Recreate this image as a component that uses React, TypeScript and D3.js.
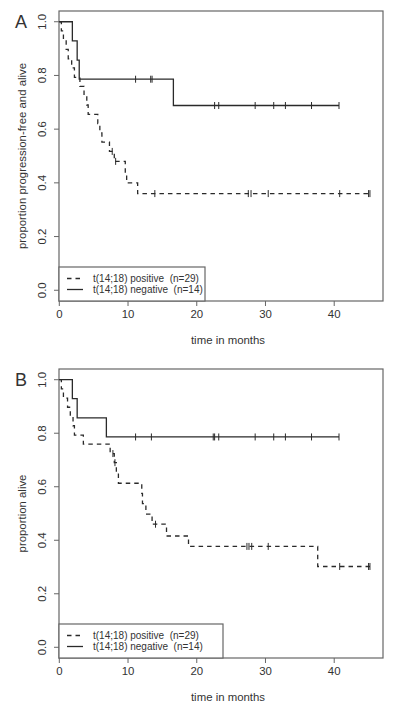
import React from "react";
import * as d3 from "d3";

// ---- data ----
// Panel A: progression-free survival
const aPosTimes = [0, 0.3, 0.6, 1.0, 1.3, 1.8, 2.2, 3.0, 3.6, 4.0, 4.2, 5.6, 5.9, 6.2, 7.3, 8.0, 9.6, 9.8, 11.4];
const aPosSurv = [1, 0.966, 0.931, 0.897, 0.862, 0.828, 0.793, 0.759, 0.724, 0.69, 0.655, 0.621, 0.586, 0.552, 0.517, 0.48, 0.44, 0.4, 0.36];
const aPosCensor = [7.7, 8.2, 13.9, 27.5, 27.9, 30.4, 40.8, 45.0, 45.2];
const aPosEnd = 45.2;

const aNegTimes = [0, 1.9, 2.6, 2.9, 16.6];
const aNegSurv = [1, 0.929, 0.857, 0.786, 0.688];
const aNegCensor = [11.1, 13.3, 13.5, 22.6, 23.2, 28.5, 31.2, 32.9, 36.7, 40.7];
const aNegEnd = 40.7;

// Panel B: overall survival
const bPosTimes = [0, 0.3, 0.6, 1.2, 1.6, 2.0, 2.2, 3.5, 7.4, 8.0, 8.3, 8.6, 12.0, 12.1, 12.6, 13.5, 15.6, 18.8, 37.6];
const bPosSurv = [1, 0.966, 0.931, 0.897, 0.862, 0.828, 0.793, 0.759, 0.724, 0.69, 0.652, 0.613, 0.575, 0.537, 0.498, 0.46, 0.416, 0.377, 0.302];
const bPosCensor = [7.8, 8.1, 14.0, 27.3, 27.6, 28.0, 30.4, 40.8, 45.0, 45.2];
const bPosEnd = 45.2;

const bNegTimes = [0, 1.9, 2.6, 6.85];
const bNegSurv = [1, 0.929, 0.857, 0.786];
const bNegCensor = [11.1, 13.4, 22.4, 22.6, 23.2, 28.5, 31.2, 32.9, 36.7, 40.7];
const bNegEnd = 40.7;

const xTicks = [0, 10, 20, 30, 40];
const yTicks = [0, 0.2, 0.4, 0.6, 0.8, 1.0];
const legendLabels = ["t(14;18) positive  (n=29)", "t(14;18) negative  (n=14)"];
const panelLetters = ["A", "B"];
const yTitles = ["proportion progression-free and alive", "proportion alive"];
const xTitle = "time in months";

type Curve = { times: number[]; surv: number[]; censor: number[]; end: number; dashed: boolean };

const panels: { top: number; bottom: number; legendRight: number; curves: Curve[] }[] = [
  {
    top: 11,
    bottom: 301,
    legendRight: 205,
    curves: [
      { times: aPosTimes, surv: aPosSurv, censor: aPosCensor, end: aPosEnd, dashed: true },
      { times: aNegTimes, surv: aNegSurv, censor: aNegCensor, end: aNegEnd, dashed: false },
    ],
  },
  {
    top: 369,
    bottom: 658,
    legendRight: 223,
    curves: [
      { times: bPosTimes, surv: bPosSurv, censor: bPosCensor, end: bPosEnd, dashed: true },
      { times: bNegTimes, surv: bNegSurv, censor: bNegCensor, end: bNegEnd, dashed: false },
    ],
  },
];

const LEFT = 59;
const RIGHT = 383;
const FONT = "Liberation Sans, Arial, sans-serif";
const INK = "#2a2a2a";
const TXT = "#333";
const BOX = "#666";
const AXF = 11.4;

function survAt(c: Curve, t: number) {
  let s = c.surv[0];
  for (let i = 0; i < c.times.length; i++) if (c.times[i] <= t) s = c.surv[i];
  return s;
}

function Panel({ idx }: { idx: number }) {
  const p = panels[idx];
  const x = d3.scaleLinear().domain([0, 47.1]).range([59.3, RIGHT]);
  const y = d3.scaleLinear().domain([-0.04, 1.04]).range([p.bottom, p.top]);
  const line = d3
    .line<[number, number]>()
    .x((d) => x(d[0]))
    .y((d) => y(d[1]))
    .curve(d3.curveStepAfter);
  const midY = (p.top + p.bottom) / 2;
  const legTop = p.bottom - 34;
  return (
    <g>
      <text x={15} y={p.top + 16.5} fontFamily={FONT} fontSize={18} fill={TXT}>
        {panelLetters[idx]}
      </text>
      <rect x={LEFT} y={p.top} width={RIGHT - LEFT} height={p.bottom - p.top} fill="none" stroke={BOX} strokeWidth={1.2} />
      {/* y axis */}
      {yTicks.map((t) => (
        <g key={"y" + t}>
          <line x1={LEFT - 5} x2={LEFT} y1={y(t)} y2={y(t)} stroke={BOX} strokeWidth={1} />
          <text
            transform={`translate(${46},${y(t)}) rotate(-90)`}
            textAnchor="middle"
            fontFamily={FONT}
            fontSize={AXF}
            fill={TXT}
          >
            {t.toFixed(1)}
          </text>
        </g>
      ))}
      <text
        transform={`translate(${26},${midY}) rotate(-90)`}
        textAnchor="middle"
        fontFamily={FONT}
        fontSize={AXF}
        fill={TXT}
      >
        {yTitles[idx]}
      </text>
      {/* x axis */}
      {xTicks.map((t) => (
        <g key={"x" + t}>
          <line x1={x(t)} x2={x(t)} y1={p.bottom} y2={p.bottom + 5} stroke={BOX} strokeWidth={1} />
          <text x={x(t)} y={p.bottom + 17} textAnchor="middle" fontFamily={FONT} fontSize={AXF} fill={TXT}>
            {t}
          </text>
        </g>
      ))}
      <text x={228} y={p.bottom + 43} textAnchor="middle" fontFamily={FONT} fontSize={AXF} fill={TXT}>
        {xTitle}
      </text>
      {/* curves */}
      {p.curves.map((c, i) => {
        const pts: [number, number][] = c.times.map((t, j) => [t, c.surv[j]] as [number, number]);
        pts.push([c.end, c.surv[c.surv.length - 1]]);
        return (
          <g key={"c" + i}>
            <path
              d={line(pts) || ""}
              fill="none"
              stroke={INK}
              strokeWidth={1.3}
              strokeDasharray={c.dashed ? "4.5,4" : undefined}
            />
            {c.censor.map((t, k) => (
              <line
                key={k}
                x1={x(t)}
                x2={x(t)}
                y1={y(survAt(c, t)) - 3.5}
                y2={y(survAt(c, t)) + 3.5}
                stroke={INK}
                strokeWidth={1}
              />
            ))}
          </g>
        );
      })}
      {/* legend */}
      <rect x={LEFT} y={legTop} width={p.legendRight - LEFT} height={p.bottom - legTop} fill="white" stroke={BOX} strokeWidth={1.2} />
      {legendLabels.map((lab, i) => (
        <g key={"l" + i}>
          <line
            x1={67}
            x2={83}
            y1={legTop + 11.5 + i * 11}
            y2={legTop + 11.5 + i * 11}
            stroke={INK}
            strokeWidth={1.3}
            strokeDasharray={i === 0 ? "4.5,4" : undefined}
          />
          <text
            x={93}
            y={legTop + 15 + i * 11}
            fontFamily={FONT}
            fontSize={10}
            fill={TXT}
            style={{ whiteSpace: "pre" }}
          >
            {lab}
          </text>
        </g>
      ))}
    </g>
  );
}

export default function App() {
  return (
    <svg width={400} height={716} style={{ position: "absolute", left: 0, top: 0, background: "white" }}>
      <rect width={400} height={716} fill="white" />
      <Panel idx={0} />
      <Panel idx={1} />
    </svg>
  );
}
